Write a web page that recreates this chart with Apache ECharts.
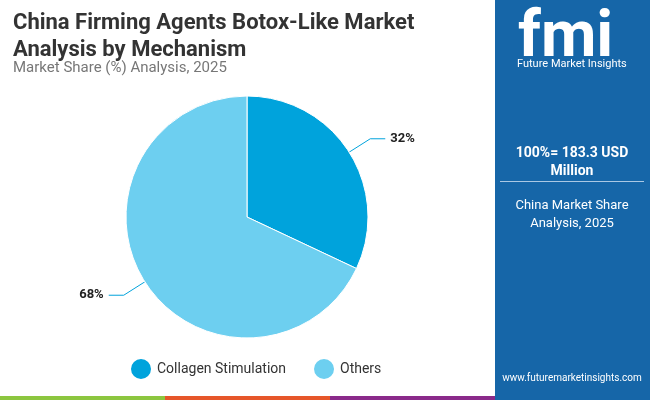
<!DOCTYPE html><html><head><meta charset="utf-8"><script src="https://cdn.jsdelivr.net/npm/echarts@6/dist/echarts.min.js"></script>
<style>html,body{margin:0;padding:0}#c{width:650px;height:400px}</style></head><body><div id="c"></div><script>
const categories=["Collagen Stimulation","Others"];
const values=[32,68];
const colors=["#00a3dc","#6dcff0"];
const chart=echarts.init(document.getElementById('c'));
const F='Roboto';
chart.setOption({
animation:false,
title:[{text:'China Firming Agents Botox-Like Market\nAnalysis by Mechanism',left:8,top:5,textStyle:{fontFamily:F,fontSize:22,fontWeight:'bold',color:'#333',lineHeight:27}},
{text:'Market Share (%) Analysis, 2025',left:8,top:56,textStyle:{fontFamily:F,fontSize:15,fontWeight:'normal',color:'#777'}}],
legend:{bottom:14,left:124,icon:'circle',itemWidth:22,itemHeight:22,itemGap:26,textStyle:{fontFamily:F,fontSize:14,color:'#333'}},
graphic:[
{type:'rect',shape:{x:495,y:0,width:155,height:400},style:{fill:'#1666a8'}},
{type:'text',left:518,top:8,style:{text:'fmi',font:'bold 64px '+F,fill:'#fff'}},
{type:'text',left:517,top:59,style:{text:'Future Market Insights',font:'11px '+F,fill:'#fff'}},
{type:'text',x:572,y:144,style:{text:'100%= 183.3 USD\nMillion',font:'bold 14px '+F,fill:'#fff',align:'center',verticalAlign:'top',lineHeight:18}},
{type:'rect',shape:{x:500,y:181,width:144,height:1},style:{fill:'#aac8e4'}},
{type:'text',x:572,y:197,style:{text:'China Market Share\nAnalysis, 2025',font:'13px '+F,fill:'#fff',align:'center',verticalAlign:'top',lineHeight:18}},
{type:'text',x:572,y:378,style:{text:'www.futuremarketinsights.com',font:'10px '+F,fill:'#fff',align:'center',verticalAlign:'middle'}},
{type:'rect',shape:{x:0,y:396,width:165,height:4},style:{fill:'#8cc63f'}},
{type:'rect',shape:{x:165,y:396,width:165,height:4},style:{fill:'#e6562a'}},
{type:'rect',shape:{x:330,y:396,width:165,height:4},style:{fill:'#8a2a8a'}},
{type:'rect',shape:{x:495,y:396,width:155,height:4},style:{fill:'#1666a8'}}
],
series:[{type:'pie',center:[247,217],radius:[0,121],startAngle:90,clockwise:true,
label:{formatter:'{d}%',fontFamily:F,fontSize:13,fontWeight:'bold',color:'#222'},
labelLine:{length:25,length2:15,lineStyle:{color:'#00a3dc'}},
itemStyle:{borderColor:'#fff',borderWidth:1},
data:categories.map((n,i)=>({name:n,value:values[i],itemStyle:{color:colors[i]}}))}]
});
</script></body></html>
